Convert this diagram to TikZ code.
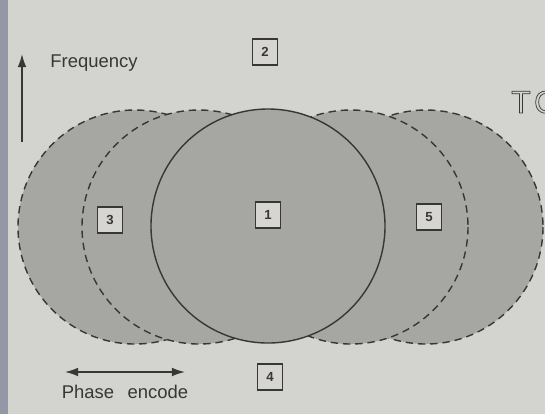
\documentclass[tikz,border=0pt]{standalone}
\usepackage{fontspec}
\setmainfont{Liberation Sans}
\usetikzlibrary{arrows.meta}
\definecolor{paper}{RGB}{211,211,207}
\definecolor{edgestrip}{RGB}{148,152,166}
\definecolor{discgray}{RGB}{166,166,162}
\definecolor{ink}{RGB}{55,55,55}
\definecolor{boxfill}{RGB}{214,213,209}
\tikzset{
  ring/.style={draw=ink,fill=discgray,line width=0.8pt,dash pattern=on 4.2pt off 2.8pt},
  numbox/.style={draw=ink,fill=boxfill,line width=0.6pt,minimum width=0.5cm,minimum height=0.52cm,inner sep=0pt,font=\fontsize{7.5}{8}\selectfont\bfseries,text=ink},
  axislabel/.style={font=\fontsize{10.5}{12}\selectfont,text=ink},
  axisarrow/.style={ink,line width=0.9pt}
}
\begin{document}
\begin{tikzpicture}[x=0.02cm,y=-0.02cm]
  \useasboundingbox (0,0) rectangle (545,414);
  \fill[paper] (0,0) rectangle (545,414);
  \fill[edgestrip] (0,0) rectangle (8,414);
  % shifted copies, dashed
  \draw[ring] (135,227) circle[radius=117];
  \draw[ring] (426,227) circle[radius=117];
  \draw[ring] (199,227) circle[radius=117];
  \draw[ring] (351,227) circle[radius=117];
  % true position
  \draw[draw=ink,fill=discgray,line width=0.8pt] (268,226) circle[radius=117];
  \node[numbox] (box1) at (268,215) {1};
  \node[numbox] (box2) at (265,52) {2};
  \node[numbox] (box3) at (110,220) {3};
  \node[numbox] (box4) at (270,377) {4};
  \node[numbox] (box5) at (429,217) {5};
  % axes
  \coordinate (freqtail) at (22,142);
  \coordinate (freqtip) at (22,54);
  \draw[axisarrow,-{Latex[length=7.5pt,width=5pt]}] (freqtail) -- (freqtip);
  \node[axislabel,anchor=base west,inner sep=0pt] (freqlabel) at (50,67) {Frequency};
  \coordinate (phaseleft) at (65,372);
  \coordinate (phaseright) at (185,372);
  \draw[axisarrow,{Latex[length=7.5pt,width=5pt]}-{Latex[length=7.5pt,width=5pt]}] (phaseleft) -- (phaseright);
  \node[axislabel,anchor=base,inner sep=0pt] (phaselabel) at (125,398) {Phase\hspace{0.45em} encode};
  \node[font=\fontsize{18}{20}\selectfont,text=ink,anchor=base west,inner sep=0pt] (pagehead) at (511,113)
    {\special{pdf:literal direct 0.4 w 1 Tr}T\kern2pt O\special{pdf:literal direct 0 Tr}};
\end{tikzpicture}
\end{document}
